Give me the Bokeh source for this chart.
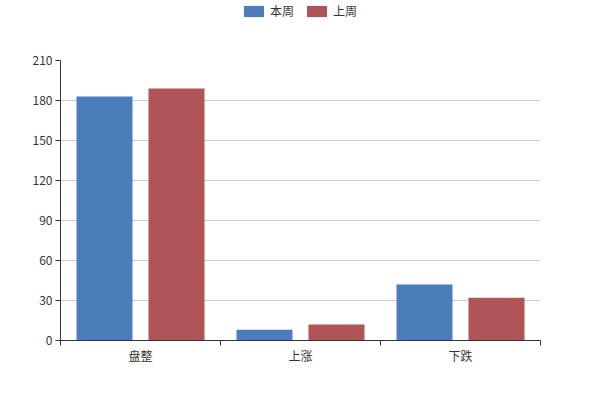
from bokeh.plotting import figure
from bokeh.layouts import column
from bokeh.models import ColumnDataSource, FixedTicker, Legend, LegendItem, Range1d
from bokeh.embed import file_html
from bokeh.resources import INLINE

categories = ["盘整", "上涨", "下跌"]
this_week = [183, 8, 42]
last_week = [189, 12, 32]
series_names = ["本周", "上周"]
colors = ["#4b7dbb", "#af5457"]
y_ticks = [0, 30, 60, 90, 120, 150, 180, 210]

FONT = "Noto Sans CJK SC"
centers = [i + 0.5 for i in range(len(categories))]

src = ColumnDataSource(dict(
    x1=[c - 0.225 for c in centers],
    x2=[c + 0.225 for c in centers],
    a=this_week,
    b=last_week,
))

p = figure(width=584, height=354, output_backend="svg", toolbar_location=None,
           x_range=Range1d(0, len(categories)), y_range=Range1d(0, 210),
           min_border_left=60, min_border_right=44, min_border_top=30,
           min_border_bottom=44)
p.outline_line_color = None

r1 = p.vbar(x="x1", top="a", width=0.35, source=src, fill_color=colors[0], line_color=None)
r2 = p.vbar(x="x2", top="b", width=0.35, source=src, fill_color=colors[1], line_color=None)

# axes
p.xaxis.ticker = FixedTicker(ticks=centers, minor_ticks=list(range(len(categories) + 1)))
p.xaxis.major_label_overrides = {c: n for c, n in zip(centers, categories)}
p.xaxis.major_tick_out = 0
p.xaxis.major_tick_in = 0
p.xaxis.minor_tick_out = 5
p.xaxis.minor_tick_in = 0
p.xaxis.minor_tick_line_color = "#333333"
p.yaxis.ticker = FixedTicker(ticks=y_ticks)
p.yaxis.major_tick_out = 5
p.yaxis.major_tick_in = 0
p.yaxis.minor_tick_line_color = None
for ax in (p.xaxis, p.yaxis):
    ax.axis_line_color = "#333333"
    ax.major_tick_line_color = "#333333"
    ax.major_label_text_color = "#333333"
    ax.major_label_text_font = FONT
    ax.major_label_text_font_size = "12px"
p.yaxis.major_label_standoff = 3
p.xaxis.major_label_standoff = 1

p.xgrid.grid_line_color = None
p.ygrid.grid_line_color = "#cccccc"
p.ygrid.ticker = FixedTicker(ticks=y_ticks[1:])

# legend strip on top (its renderers hold one bar each, placed outside the visible range)
lg = figure(width=584, height=30, output_backend="svg", toolbar_location=None,
            x_axis_location=None, y_axis_location=None,
            x_range=Range1d(0, 1), y_range=Range1d(0, 1), min_border=0)
lg.outline_line_color = None
lg.xgrid.grid_line_color = None
lg.ygrid.grid_line_color = None
d1 = lg.vbar(x=[-5], top=[-5], bottom=[-6], width=0.1, fill_color=colors[0], line_color=None)
d2 = lg.vbar(x=[-5], top=[-5], bottom=[-6], width=0.1, fill_color=colors[1], line_color=None)

legend = Legend(items=[LegendItem(label=series_names[0], renderers=[d1]),
                       LegendItem(label=series_names[1], renderers=[d2])],
                orientation="horizontal", location=(181, 11),
                glyph_width=25, glyph_height=14, label_height=14,
                label_text_font=FONT, label_text_font_size="12px",
                label_text_color="#333333", label_standoff=4, spacing=10,
                padding=0, margin=0, border_line_color=None,
                background_fill_alpha=0)
lg.add_layout(legend, "center")

layout = column(lg, p, spacing=0)
open("out.html", "w").write(file_html(layout, INLINE))
